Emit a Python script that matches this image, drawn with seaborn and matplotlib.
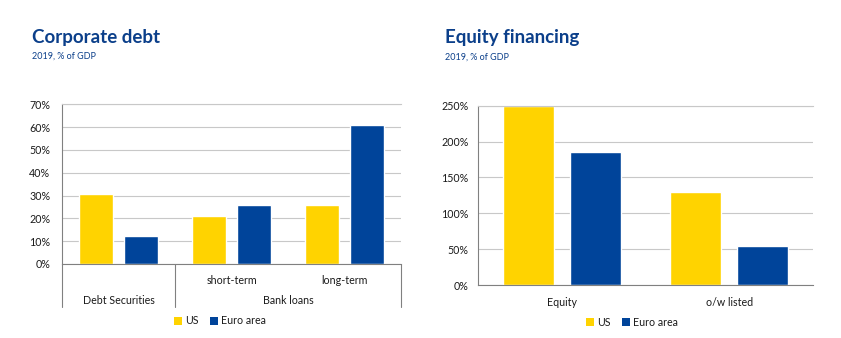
import matplotlib
matplotlib.use("Agg")
import matplotlib.pyplot as plt
import seaborn as sns
import pandas as pd
from matplotlib.ticker import FuncFormatter
from matplotlib.patches import Patch

# ---- data ----
debt_categories = ["Debt Securities", "short-term", "long-term"]
debt_groups = ["Debt Securities", "Bank loans"]
debt_us = [30.7, 21.0, 26.0]
debt_ea = [12.3, 25.9, 61.0]

equity_categories = ["Equity", "o/w listed"]
equity_us = [249.0, 129.7]
equity_ea = [185.4, 54.4]

series = ["US", "Euro area"]
colors = ["#FFD300", "#00449A"]
title_color = "#0B3F8A"

sns.set_theme(style="white")
plt.rcParams["font.family"] = ["Lato", "DejaVu Sans"]

W, H = 841, 338
fig = plt.figure(figsize=(W / 100, H / 100), dpi=100)


def ax_rect(x0, x1, ytop, ybot):
    return [x0 / W, 1 - ybot / H, (x1 - x0) / W, (ybot - ytop) / H]


def style_axes(ax, ymax, step, ypad):
    ax.set_ylim(0, ymax)
    ax.set_yticks([i * step for i in range(int(round(ymax / step)) + 1)])
    ax.yaxis.set_major_formatter(FuncFormatter(lambda v, p: f"{v:.0f}%"))
    ax.grid(axis="y", color="#C8C8C8", linewidth=0.8)
    ax.set_axisbelow(True)
    ax.spines["right"].set_visible(False)
    ax.spines["top"].set_color("#C8C8C8")
    ax.spines["top"].set_linewidth(0.8)
    ax.spines["left"].set_color("#808080")
    ax.spines["bottom"].set_color("#808080")
    ax.spines["left"].set_linewidth(0.8)
    ax.spines["bottom"].set_linewidth(0.8)
    ax.tick_params(axis="y", length=0, pad=ypad, labelsize=7.7, labelcolor="#1a1a1a")
    ax.tick_params(axis="x", length=0, labelsize=7.7, labelcolor="#1a1a1a")
    ax.set_xlabel("")
    ax.set_ylabel("")
    if ax.get_legend() is not None:
        ax.get_legend().remove()


# ---- left: corporate debt ----
df1 = pd.DataFrame({
    "cat": debt_categories * 2,
    "val": debt_us + debt_ea,
    "series": [series[0]] * 3 + [series[1]] * 3,
})
ax1 = fig.add_axes(ax_rect(62, 401, 104.3, 264))
sns.barplot(data=df1, x="cat", y="val", hue="series", palette=colors,
            order=debt_categories, hue_order=series, width=0.8, gap=0.24,
            ax=ax1, saturation=1)
style_axes(ax1, 70, 10, 8.5)
ax1.set_xlim(-0.5, 2.5)
ax1.set_xticks([1, 2])
ax1.set_xticklabels(debt_categories[1:])
ax1.tick_params(axis="x", pad=8)
trans = ax1.get_xaxis_transform()
ybot = (264 - 307) / (264 - 104.3)
for xb in [-0.5, 0.5, 2.5]:
    ax1.plot([xb, xb], [0, ybot], transform=trans, color="#808080",
             linewidth=0.8, clip_on=False)
ylab2 = (264 - 301) / (264 - 104.3)
ax1.text(0, ylab2, debt_groups[0], transform=trans, ha="center", va="center",
         fontsize=7.7, color="#1a1a1a")
ax1.text(1.5, ylab2, debt_groups[1], transform=trans, ha="center", va="center",
         fontsize=7.7, color="#1a1a1a")

# ---- right: equity financing ----
df2 = pd.DataFrame({
    "cat": equity_categories * 2,
    "val": equity_us + equity_ea,
    "series": [series[0]] * 2 + [series[1]] * 2,
})
ax2 = fig.add_axes(ax_rect(478.3, 813, 105.7, 285))
sns.barplot(data=df2, x="cat", y="val", hue="series", palette=colors,
            order=equity_categories, hue_order=series, width=0.8, gap=0.24,
            ax=ax2, saturation=1)
style_axes(ax2, 250, 50, 7)
ax2.set_xlim(-0.5, 1.5)
ax2.tick_params(axis="x", pad=9)

# ---- legends ----
handles = [Patch(facecolor=c, edgecolor="none") for c in colors]
for cx, cy in [(220, 321), (632, 322)]:
    fig.legend(handles, series, loc="center", bbox_to_anchor=(cx / W, 1 - cy / H),
               ncol=2, frameon=False, fontsize=7.7, handlelength=0.75,
               handleheight=0.75, handletextpad=0.3, columnspacing=1.0,
               labelcolor="#1a1a1a")

# ---- titles ----
fig.text(32 / W, 1 - 37 / H, "Corporate debt", fontsize=13.5, fontweight="bold",
         color=title_color, ha="left", va="center")
fig.text(32 / W, 1 - 56 / H, "2019, % of GDP", fontsize=6.5,
         color=title_color, ha="left", va="center")
fig.text(445 / W, 1 - 38 / H, "Equity financing", fontsize=13.5, fontweight="bold",
         color=title_color, ha="left", va="center")
fig.text(445 / W, 1 - 57 / H, "2019, % of GDP", fontsize=6.5,
         color=title_color, ha="left", va="center")

fig.savefig("out.png", dpi=100)
